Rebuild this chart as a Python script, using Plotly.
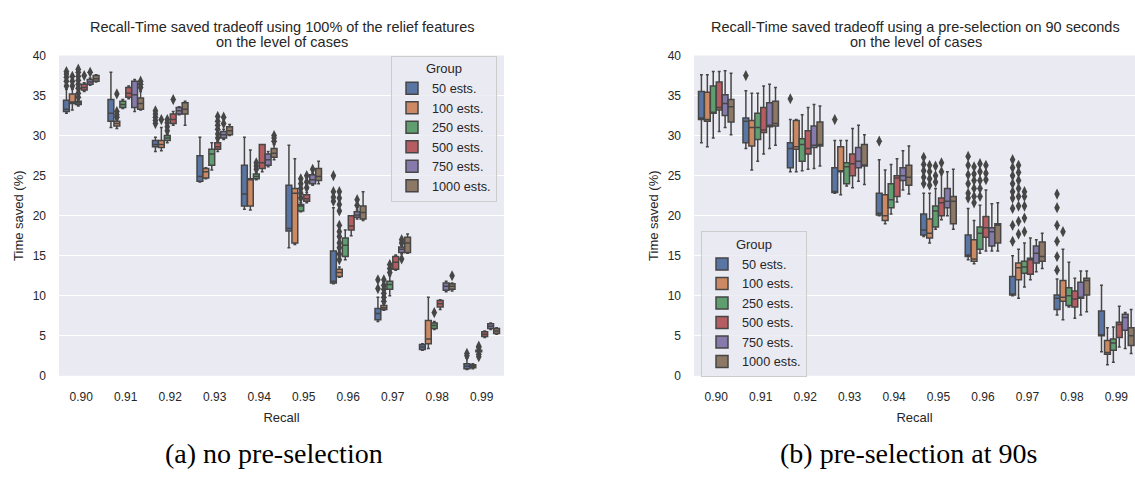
import plotly.graph_objects as go

RECALL = ["0.90", "0.91", "0.92", "0.93", "0.94", "0.95", "0.96", "0.97", "0.98", "0.99"]
GROUPS = ["50 ests.", "100 ests.", "250 ests.", "500 ests.", "750 ests.", "1000 ests."]
COLORS = ["#5875a4", "#cc8963", "#5f9e6e", "#b55d60", "#857aab", "#8d7866"]

# ---- (a) no pre-selection : per group, per recall level ----
A_LOWER = [
    [32.8, 31.0, 28.0, 24.2, 20.8, 16.0, 11.5, 6.8, 3.2, 0.8],
    [33.2, 30.9, 28.1, 24.6, 20.7, 16.4, 12.3, 8.2, 3.4, 0.9],
    [33.7, 33.4, 29.1, 25.7, 24.5, 20.5, 14.5, 10.0, 5.8, 2.9],
    [35.5, 34.6, 31.3, 28.0, 25.5, 21.6, 17.5, 13.2, 8.3, 4.8],
    [36.3, 33.0, 32.6, 29.5, 26.1, 23.8, 19.6, 15.2, 10.5, 5.8],
    [36.7, 33.2, 31.3, 30.0, 27.0, 24.0, 19.4, 15.3, 10.6, 5.2],
]
A_Q1 = [
    [33.0, 31.8, 28.6, 24.3, 21.2, 18.1, 11.6, 7.0, 3.3, 0.9],
    [34.0, 31.2, 28.5, 24.7, 21.2, 16.6, 12.4, 8.3, 4.0, 1.0],
    [33.9, 33.5, 29.4, 26.3, 24.6, 20.6, 14.9, 10.8, 5.9, 3.0],
    [35.7, 34.8, 31.5, 28.3, 25.9, 21.8, 18.2, 13.3, 8.6, 4.9],
    [36.4, 33.5, 32.7, 29.7, 26.3, 24.0, 19.8, 15.4, 10.7, 5.9],
    [36.8, 33.3, 32.7, 30.1, 27.3, 24.4, 19.6, 15.4, 10.8, 5.3],
]
A_MED = [
    [33.3, 32.8, 28.9, 24.9, 22.7, 18.4, 11.8, 7.8, 3.6, 1.2],
    [34.2, 31.5, 28.9, 25.5, 24.5, 22.8, 12.9, 8.5, 4.6, 1.2],
    [34.1, 33.9, 29.7, 27.7, 24.9, 21.2, 16.3, 11.4, 6.3, 3.1],
    [36.0, 35.3, 32.0, 28.6, 26.6, 22.1, 18.7, 14.2, 9.0, 5.2],
    [36.7, 35.1, 33.1, 30.1, 27.0, 24.5, 20.1, 15.8, 11.2, 6.2],
    [37.1, 34.0, 33.3, 30.6, 27.8, 24.9, 20.4, 16.6, 11.2, 5.6],
]
A_Q3 = [
    [34.4, 34.5, 29.4, 27.5, 26.3, 23.8, 15.6, 8.4, 3.9, 1.5],
    [35.2, 31.8, 29.4, 25.9, 24.6, 23.4, 13.3, 8.8, 6.9, 1.4],
    [34.3, 34.3, 30.0, 28.3, 25.2, 21.4, 17.2, 11.8, 6.6, 3.2],
    [36.4, 36.0, 32.7, 29.1, 28.9, 22.6, 20.0, 14.9, 9.4, 5.5],
    [37.0, 36.8, 33.5, 30.5, 27.7, 25.1, 20.5, 16.1, 11.6, 6.5],
    [37.5, 34.7, 34.1, 31.1, 28.4, 25.9, 21.2, 17.3, 11.5, 5.9],
]
A_UPPER = [
    [35.8, 37.9, 29.8, 29.8, 29.8, 28.8, 21.0, 9.8, 4.0, 2.2],
    [35.8, 32.0, 31.0, 26.0, 28.2, 27.1, 13.6, 9.0, 9.8, 1.5],
    [34.5, 34.5, 30.2, 29.1, 25.4, 21.6, 18.2, 12.5, 6.8, 3.3],
    [36.6, 36.2, 33.0, 29.3, 28.9, 22.9, 20.0, 15.1, 9.5, 5.6],
    [37.2, 37.0, 33.6, 30.8, 28.0, 25.3, 20.7, 16.3, 11.8, 6.6],
    [37.6, 35.5, 34.3, 31.4, 28.9, 26.8, 23.0, 17.7, 11.6, 6.0],
]
# outliers: (recall index, group index, values)
A_FLIERS = [
    (0, 0, [36.2, 36.8, 37.3, 37.7, 38.0]), (0, 1, [36.2, 36.8, 37.4]),
    (0, 2, [34.8, 35.3, 35.9, 36.4, 36.9, 37.4, 37.9, 38.3]), (0, 3, [37.5]), (0, 4, [37.9]),
    (1, 1, [32.3, 32.6, 33.0, 35.2]), (1, 5, [36.0, 36.4, 36.8]),
    (2, 0, [31.5, 31.9, 32.3, 32.7, 33.1]), (2, 1, [32.0]), (2, 2, [30.6, 31.1, 31.6, 32.0]), (2, 3, [34.5]),
    (3, 3, [29.7, 30.2, 30.8, 31.3, 31.8, 32.4]), (3, 4, [31.5, 32.3]),
    (4, 2, [25.8, 26.2, 26.6]), (4, 5, [29.3, 29.7, 30.0]),
    (5, 2, [22.2, 22.8, 23.4, 24.0, 24.6]), (5, 3, [23.5, 24.2, 25.0]), (5, 4, [25.8]),
    (6, 0, [21.8, 22.3, 23.0, 25.0]),
    (6, 1, [14.5, 15.2, 16.0, 16.6, 17.4, 18.0, 18.8, 20.6, 21.4, 22.2, 23.0]), (6, 4, [21.3, 22.0]),
    (7, 0, [10.9, 12.0]), (7, 1, [9.3, 9.8, 10.3, 10.8, 11.3, 12.0]), (7, 2, [12.9, 13.4, 13.9]),
    (7, 4, [14.6, 16.6, 17.0]),
    (8, 2, [7.9]), (8, 5, [12.5]),
    (9, 0, [2.5, 2.8]), (9, 2, [2.4, 2.7, 3.5, 3.7]),
]

# ---- (b) pre-selection at 90s ----
B_LOWER = [
    [29.1, 28.4, 25.5, 22.8, 20.0, 17.4, 14.5, 10.0, 7.6, 3.0],
    [28.6, 25.7, 25.5, 22.6, 19.0, 16.6, 14.0, 9.7, 7.0, 1.4],
    [29.7, 26.8, 25.6, 23.7, 20.2, 18.3, 15.3, 11.1, 8.6, 1.7],
    [30.5, 27.7, 25.8, 23.5, 21.7, 19.5, 15.6, 12.0, 7.2, 3.6],
    [31.0, 28.4, 25.9, 24.3, 23.2, 20.0, 15.6, 13.0, 7.6, 3.4],
    [30.1, 28.8, 26.2, 23.9, 22.7, 18.3, 15.6, 13.4, 8.0, 2.8],
]
B_Q1 = [
    [32.0, 29.1, 26.0, 22.9, 20.1, 17.6, 14.9, 10.1, 8.3, 5.0],
    [31.8, 28.7, 28.3, 25.5, 19.4, 17.2, 14.3, 12.0, 9.3, 2.7],
    [32.8, 29.5, 26.8, 24.0, 21.0, 18.6, 15.8, 12.8, 8.8, 3.2],
    [33.2, 30.4, 27.7, 25.0, 22.4, 20.0, 17.3, 12.7, 8.6, 4.8],
    [32.5, 31.1, 28.5, 26.0, 24.4, 21.0, 16.2, 14.1, 9.7, 5.7],
    [31.7, 31.2, 28.7, 26.2, 23.8, 19.0, 16.6, 14.3, 10.1, 3.8],
]
B_MED = [
    [32.2, 31.8, 28.4, 23.0, 20.3, 18.2, 15.1, 10.2, 9.7, 5.1],
    [32.0, 31.0, 28.6, 25.6, 20.0, 17.8, 14.6, 13.5, 9.8, 2.9],
    [32.9, 31.0, 28.9, 26.1, 22.0, 20.6, 17.8, 13.6, 10.0, 4.1],
    [33.5, 30.7, 28.4, 26.5, 24.7, 21.6, 18.5, 14.5, 9.6, 6.4],
    [34.0, 31.3, 28.8, 26.8, 25.0, 21.8, 18.0, 15.3, 9.8, 7.3],
    [33.6, 31.5, 28.9, 26.3, 24.8, 21.8, 18.8, 14.9, 11.9, 5.0],
]
B_Q3 = [
    [35.5, 32.2, 29.1, 26.0, 22.8, 20.2, 17.6, 12.4, 10.1, 8.1],
    [35.4, 31.9, 31.9, 28.6, 22.6, 19.6, 17.0, 14.1, 11.9, 4.4],
    [36.2, 32.8, 29.6, 26.6, 24.0, 21.2, 18.6, 14.3, 11.0, 4.6],
    [36.7, 33.5, 30.6, 27.7, 25.0, 22.2, 19.9, 14.7, 10.6, 6.7],
    [35.1, 34.1, 31.2, 28.5, 26.0, 23.4, 18.5, 16.2, 11.7, 7.7],
    [34.5, 34.3, 31.7, 28.9, 26.3, 22.4, 19.0, 16.7, 12.2, 6.0],
]
B_UPPER = [
    [37.6, 35.6, 32.0, 29.4, 27.0, 22.8, 20.9, 15.0, 12.1, 11.3],
    [37.6, 35.3, 32.0, 29.4, 25.7, 22.8, 19.4, 15.8, 15.8, 6.0],
    [38.0, 35.3, 32.6, 29.4, 26.4, 23.4, 21.3, 16.6, 14.2, 6.1],
    [38.0, 36.2, 33.5, 30.9, 27.1, 25.5, 23.2, 17.2, 12.2, 8.7],
    [38.1, 36.4, 33.9, 31.3, 28.1, 25.5, 21.5, 17.0, 13.1, 7.9],
    [37.8, 36.0, 33.7, 30.1, 28.7, 25.8, 21.6, 17.8, 13.1, 8.3],
]
B_FLIERS = [
    (1, 0, [37.5]), (2, 0, [34.6]), (3, 0, [32.0]), (4, 0, [29.3]),
    (5, 0, [24.0, 24.8, 25.6, 26.4, 27.3]), (5, 1, [23.8, 24.6, 25.5, 26.3]),
    (5, 2, [24.2, 25.0, 26.2]), (5, 3, [25.5, 26.6]),
    (6, 0, [22.2, 22.8, 24.0, 25.1, 26.3, 27.4]), (6, 1, [21.6, 22.4, 23.4, 24.4, 25.2, 26.1]),
    (6, 2, [22.4, 23.4, 24.4, 25.5, 26.5]), (6, 3, [24.5, 25.3, 26.3]),
    (7, 0, [16.8, 18.8, 20.9, 22.2, 23.0, 24.0, 25.0, 26.0, 27.0]),
    (7, 1, [17.7, 19.3, 21.2, 22.4, 23.4, 24.4, 25.4, 26.3]),
    (7, 2, [18.0, 19.7, 21.2, 22.4, 23.0]),
    (8, 0, [13.2, 14.9, 16.8, 18.8, 21.0, 22.7]), (8, 1, [18.0]),
]

TITLE_A = ["Recall-Time saved tradeoff using 100% of the relief features", "on the level of cases"]
TITLE_B = ["Recall-Time saved tradeoff using a pre-selection on 90 seconds", "on the level of cases"]
CAPTION_A = "(a) no pre-selection"
CAPTION_B = "(b) pre-selection at 90s"

W, H = 1135, 477
GRAY = "#464646"
TXT = "#262626"
FONT = "Liberation Sans, Arial, sans-serif"
SERIF = "Liberation Serif, Times New Roman, serif"
NG = len(GROUPS)
EACH = 0.8 / NG


def pos(cat, g):
    return cat + (g - (NG - 1) / 2) * EACH


fig = go.Figure()

panels = [
    ("x", "y", "legend", A_LOWER, A_Q1, A_MED, A_Q3, A_UPPER, A_FLIERS),
    ("x2", "y2", "legend2", B_LOWER, B_Q1, B_MED, B_Q3, B_UPPER, B_FLIERS),
]
for xa, ya, leg, lo, q1, md, q3, up, fl in panels:
    for g, name in enumerate(GROUPS):
        fig.add_trace(go.Box(
            x=[pos(c, g) for c in range(len(RECALL))],
            lowerfence=lo[g], q1=q1[g], median=md[g], q3=q3[g], upperfence=up[g],
            name=name, width=EACH * 0.98, whiskerwidth=0.5,
            fillcolor=COLORS[g], line=dict(color=GRAY, width=1.5),
            boxpoints=False, xaxis=xa, yaxis=ya, legend=leg, hoverinfo="skip",
        ))
    fx, fy = [], []
    for c, g, vals in fl:
        for v in vals:
            fx.append(pos(c, g))
            fy.append(v)
    fig.add_trace(go.Scatter(
        x=fx, y=fy, mode="markers", showlegend=False, xaxis=xa, yaxis=ya,
        marker=dict(symbol="diamond-tall", size=8, color=GRAY, line=dict(width=0)),
        hoverinfo="skip",
    ))

axis_common = dict(
    showgrid=False, zeroline=False, showline=False, ticks="",
    tickfont=dict(family=FONT, size=12, color=TXT),
    tickvals=list(range(len(RECALL))), ticktext=RECALL,
    title=dict(text="Recall", font=dict(family=FONT, size=13, color=TXT), standoff=10),
    ticklabelstandoff=12,
)
yaxis_common = dict(
    range=[0, 40], dtick=5, tick0=0, showgrid=True, gridcolor="white", gridwidth=1.2,
    zeroline=False, showline=False, ticks="",
    tickfont=dict(family=FONT, size=12, color=TXT),
    title=dict(text="Time saved (%)", font=dict(family=FONT, size=13, color=TXT), standoff=6),
    ticklabelstandoff=12,
    domain=[1 - 380 / H, 1 - 50 / H],
)

legend_common = dict(
    title=dict(text="Group", side="top center", font=dict(family=FONT, size=13, color=TXT)),
    font=dict(family=FONT, size=12.7, color=TXT),
    bgcolor="rgba(234,234,242,0.8)", bordercolor="#cccccc", borderwidth=1,
    tracegroupgap=0, itemclick=False,
)


def text_ann(text, xc, yc, size, family, color):
    return dict(text=text, x=xc / W, y=1 - yc / H, xref="paper", yref="paper",
                showarrow=False, xanchor="center", yanchor="middle",
                font=dict(family=family, size=size, color=color))


xa_c = (59 + 504) / 2
xb_c = (694 + 1137) / 2
fig.update_layout(
    width=W, height=H, margin=dict(l=0, r=0, t=0, b=0),
    paper_bgcolor="white", plot_bgcolor="#eaeaf2",
    showlegend=True,
    xaxis=dict(domain=[59 / W, 504 / W], range=[-0.5, 9.5], anchor="y", **axis_common),
    xaxis2=dict(domain=[694 / W, 1.0], range=[-0.5, 9.42], anchor="y2", **axis_common),
    yaxis=dict(anchor="x", **yaxis_common),
    yaxis2=dict(anchor="x2", **yaxis_common),
    legend=dict(x=497 / W, y=1 - 50 / H, xanchor="right", yanchor="top", **legend_common),
    legend2=dict(x=701 / W, y=1 - 231 / H, xanchor="left", yanchor="top", **legend_common),
    annotations=[
        text_ann(TITLE_A[0], xa_c, 21, 14.5, FONT, TXT),
        text_ann(TITLE_A[1], xa_c, 36, 14.5, FONT, TXT),
        text_ann(TITLE_B[0], xb_c, 21, 14.5, FONT, TXT),
        text_ann(TITLE_B[1], xb_c, 36, 14.5, FONT, TXT),
        text_ann(CAPTION_A, 274, 460, 28, SERIF, "black"),
        text_ann(CAPTION_B, 908, 460, 28, SERIF, "black"),
    ],
)

fig.write_html("out.html")
